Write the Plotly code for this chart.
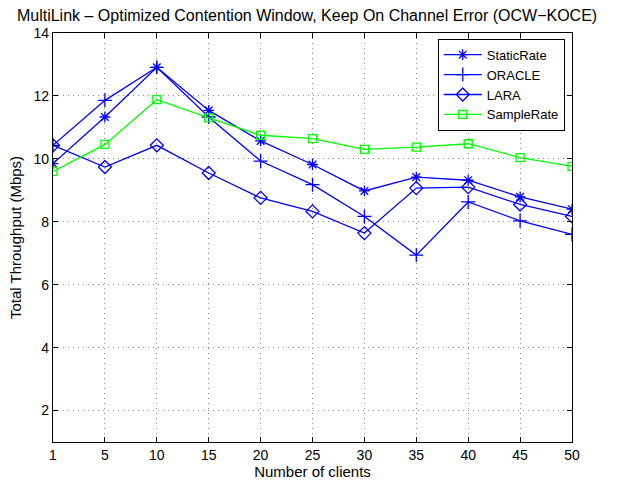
import plotly.graph_objects as go

clients = ["1", "5", "10", "15", "20", "25", "30", "35", "40", "45", "50"]
static_rate = [9.85, 11.33, 12.91, 11.54, 10.57, 9.82, 8.98, 9.42, 9.32, 8.79, 8.40]
oracle = [10.43, 11.86, 12.91, 11.33, 9.93, 9.18, 8.17, 6.94, 8.63, 8.03, 7.60]
lara = [10.43, 9.74, 10.43, 9.55, 8.76, 8.33, 7.64, 9.07, 9.10, 8.55, 8.17]
sample_rate = [9.60, 10.46, 11.88, 11.30, 10.75, 10.64, 10.30, 10.37, 10.48, 10.04, 9.76]
y_ticks = [2, 4, 6, 8, 10, 12, 14]

BLUE = "#0000FF"
GREEN = "#00FF00"
FONT = "Liberation Sans, Arial, sans-serif"

fig = go.Figure()
series = [
    ("StaticRate", static_rate, BLUE, "asterisk-open", 9),
    ("ORACLE", oracle, BLUE, "cross-thin-open", 10),
    ("LARA", lara, BLUE, "diamond-open", 10),
    ("SampleRate", sample_rate, GREEN, "square-open", 8),
]
for name, vals, col, sym, size in series:
    fig.add_trace(go.Scatter(
        x=clients, y=vals, name=name, mode="lines+markers",
        line=dict(color=col, width=1.3),
        marker=dict(symbol=sym, size=size, color=col, line=dict(color=col, width=1.3)),
    ))

axis_common = dict(
    showline=True, linecolor="black", linewidth=1.3, mirror="ticks",
    ticks="inside", ticklen=5, tickcolor="black",
    showgrid=True, gridcolor="#8a8a8a", griddash="1px,4px", gridwidth=1,
    zeroline=False, automargin=False,
    tickfont=dict(family=FONT, size=14, color="black"),
)

fig.update_layout(
    width=621, height=483,
    margin=dict(l=53, r=49, t=33, b=41),
    paper_bgcolor="white", plot_bgcolor="white",
    font=dict(family=FONT, size=14, color="black"),
    title=dict(
        text="MultiLink \u2013 Optimized Contention Window, Keep On Channel Error (OCW\u2212KOCE)",
        x=0.4895, xref="paper", xanchor="center", y=0.969, yanchor="middle",
        font=dict(size=16, color="black"),
    ),
    xaxis=dict(type="category", range=[0, 10],
               title=dict(text="Number of clients", standoff=3, font=dict(size=15)), **axis_common),
    yaxis=dict(range=[1, 14], tickvals=y_ticks,
               title=dict(text="Total Throughput (Mbps)", standoff=8, font=dict(size=15)), **axis_common),
    legend=dict(
        x=0.986, y=0.986, xanchor="right", yanchor="top",
        bgcolor="white", bordercolor="black", borderwidth=1,
        font=dict(size=13), itemwidth=38, tracegroupgap=0,
    ),
    showlegend=True,
)

fig.write_html("out.html")
